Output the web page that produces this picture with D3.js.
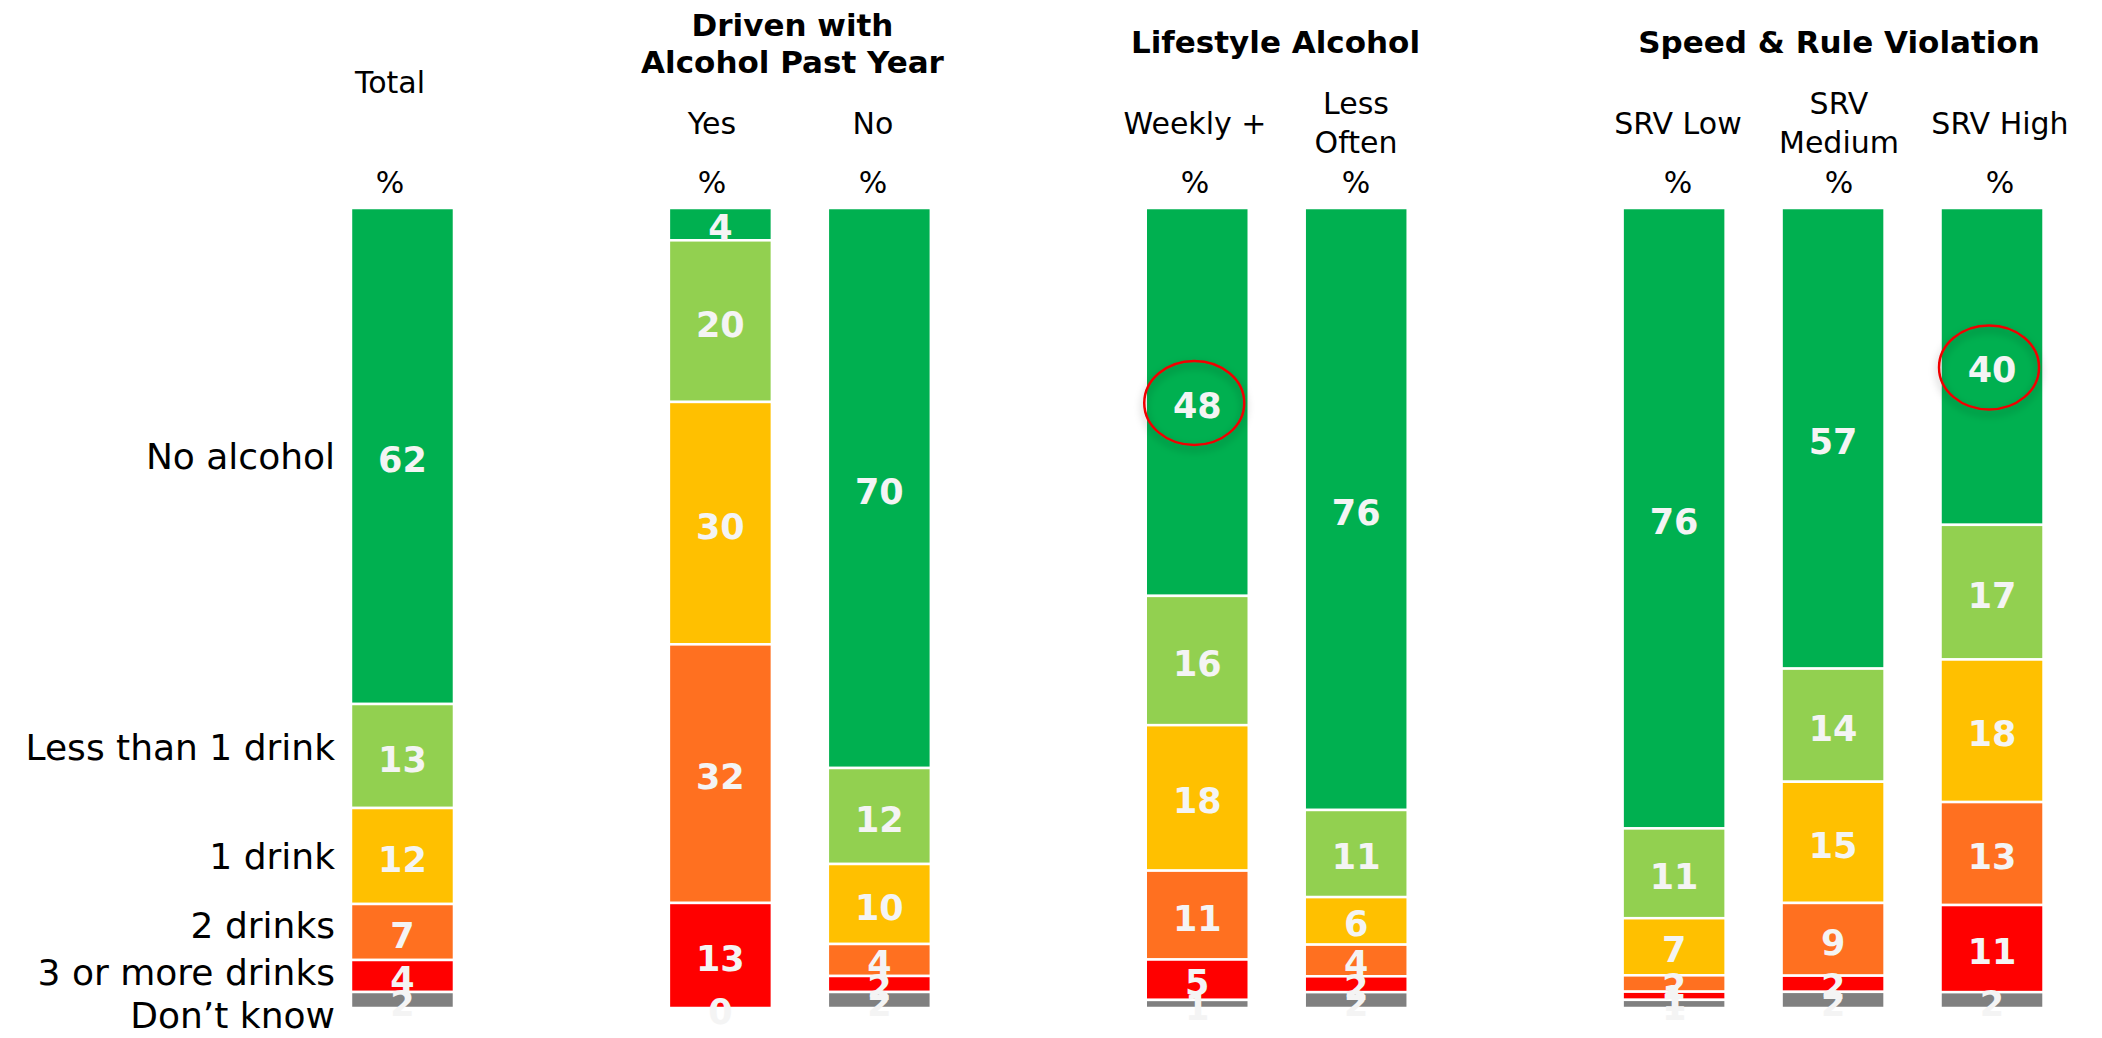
<!DOCTYPE html>
<html>
<head>
<meta charset="utf-8">
<script src="https://cdn.jsdelivr.net/npm/d3@7"></script>
<style>
  html, body { margin: 0; padding: 0; background: #fff; }
  svg { display: block; }
  text { font-family: Verdana, "DejaVu Sans", sans-serif; }
</style>
</head>
<body>
<div id="chart"></div>
<script>
// ---------- data ----------
const groupTitles = ["", "Driven with\nAlcohol Past Year", "Lifestyle Alcohol", "Speed & Rule Violation"];
const columns = ["Total", "Yes", "No", "Weekly +", "Less Often", "SRV Low", "SRV Medium", "SRV High"];
const columnLabels = ["Total", "Yes", "No", "Weekly +", "Less\nOften", "SRV Low", "SRV\nMedium", "SRV High"];
const columnGroup = [0, 1, 1, 2, 2, 3, 3, 3];
const categories = ["No alcohol", "Less than 1 drink", "1 drink", "2 drinks", "3 or more drinks", "Don\u2019t know"];

const noAlcohol   = [62,  4, 70, 48, 76, 76, 57, 40];
const lessThan1   = [13, 20, 12, 16, 11, 11, 14, 17];
const oneDrink    = [12, 30, 10, 18,  6,  7, 15, 18];
const twoDrinks   = [ 7, 32,  4, 11,  4,  2,  9, 13];
const threePlus   = [ 4, 13,  2,  5,  2,  1,  2, 11];
const dontKnow    = [ 2,  0,  2,  1,  2,  1,  2,  2];

const highlights = [["Weekly +", "No alcohol"], ["SRV High", "No alcohol"]];

// ---------- styles ----------
const colors = ["#00B050", "#92D050", "#FFC000", "#FF7020", "#FF0000", "#808080"];
const W = 2102, H = 1038;

const seriesValues = [noAlcohol, lessThan1, oneDrink, twoDrinks, threePlus, dontKnow];
const table = columns.map((c, i) => {
  const row = { column: c };
  categories.forEach((k, j) => row[k] = seriesValues[j][i]);
  return row;
});

// slot domain with spacer slots between groups
const slots = [];
columns.forEach((c, i) => {
  if (i > 0 && columnGroup[i] !== columnGroup[i - 1]) slots.push("__gap" + i);
  slots.push(c);
});

const x = d3.scaleBand().domain(slots).range([323, 2071.5]).paddingInner(0.352).paddingOuter(0.176);
const xHead = d3.scalePoint().domain(slots).range([390, 2000]);
const y = d3.scaleLinear().domain([0, 1]).range([208, 1008]);

const stack = d3.stack().keys(categories).offset(d3.stackOffsetExpand).order(d3.stackOrderNone);
const series = stack(table);

const svg = d3.select("#chart").append("svg").attr("width", W).attr("height", H);

const defs = svg.append("defs");
const f = defs.append("filter").attr("id", "shadow").attr("x", "-30%").attr("y", "-30%").attr("width", "160%").attr("height", "170%");
f.append("feDropShadow").attr("dx", 0).attr("dy", 4).attr("stdDeviation", 4).attr("flood-color", "#000").attr("flood-opacity", 0.35);

// bars
const layers = svg.append("g").selectAll("g").data(series).join("g").attr("fill", (d, i) => colors[i]);
layers.selectAll("rect").data(d => d).join("rect")
  .attr("x", d => x(d.data.column))
  .attr("width", x.bandwidth())
  .attr("y", d => y(d[0]))
  .attr("height", d => Math.max(0, y(d[1]) - y(d[0])))
  .attr("stroke", "#fff")
  .attr("stroke-width", 2.5);

// value labels
const labelG = svg.append("g");
series.forEach((s, i) => {
  labelG.selectAll(null).data(s).join("text")
    .attr("x", d => x(d.data.column) + x.bandwidth() / 2)
    .attr("y", d => (y(d[0]) + y(d[1])) / 2 + 3)
    .attr("dy", "0.36em")
    .attr("text-anchor", "middle")
    .attr("font-size", 35)
    .attr("font-weight", "bold")
    .attr("fill", "#F4F4F4")
    .text(d => d.data[s.key]);
});

// highlight ellipses
highlights.forEach(([col, cat]) => {
  const s = series[categories.indexOf(cat)];
  const d = s.find(e => e.data.column === col);
  svg.append("ellipse")
    .attr("cx", x(col) + x.bandwidth() / 2 - 3)
    .attr("cy", (y(d[0]) + y(d[1])) / 2 + 1)
    .attr("rx", 50).attr("ry", 42)
    .attr("fill", "none")
    .attr("stroke", "#F00000")
    .attr("stroke-width", 2.5)
    .attr("filter", "url(#shadow)");
});

// left category labels, positioned at the Total bar segment centres, spread to avoid overlap
const totalPos = series.map(s => (y(s[0][0]) + y(s[0][1])) / 2);
const pos = totalPos.slice();
const minGap = 47;
for (let it = 0; it < 200; it++) {
  for (let i = 1; i < pos.length; i++) {
    const gap = pos[i] - pos[i - 1];
    if (gap < minGap) {
      const m = (minGap - gap) / 2;
      pos[i - 1] -= m; pos[i] += m;
    }
  }
}
const labelNudge = [0, -9, 0, 3, 3, -1];
svg.append("g").selectAll("text").data(categories).join("text")
  .attr("x", 335)
  .attr("y", (d, i) => pos[i] + labelNudge[i])
  .attr("dy", "0.36em")
  .attr("text-anchor", "end")
  .attr("font-size", 36)
  .attr("fill", "#000")
  .text(d => d);

// column headers
const head = svg.append("g");
columns.forEach((c, i) => {
  const lines = columnLabels[i].split("\n");
  const cx = xHead(c);
  let ys;
  if (!groupTitles[columnGroup[i]]) ys = [82];
  else if (lines.length === 1) ys = [123];
  else ys = [103, 142];
  lines.forEach((ln, k) => {
    head.append("text").attr("x", cx).attr("y", ys[k]).attr("dy", "0.36em")
      .attr("text-anchor", "middle").attr("font-size", 30).attr("fill", "#000").text(ln);
  });
  head.append("text").attr("x", cx).attr("y", 182).attr("dy", "0.36em")
    .attr("text-anchor", "middle").attr("font-size", 30).attr("fill", "#000").text("%");
});

// group titles
groupTitles.forEach((g, gi) => {
  if (!g) return;
  const cols = columns.filter((c, i) => columnGroup[i] === gi);
  const cx = d3.mean(cols, c => xHead(c));
  const lines = g.split("\n");
  const ys = lines.length === 1 ? [42] : [25, 62];
  lines.forEach((ln, k) => {
    head.append("text").attr("x", cx).attr("y", ys[k]).attr("dy", "0.36em")
      .attr("text-anchor", "middle").attr("font-size", 31).attr("font-weight", "bold")
      .attr("fill", "#000").text(ln);
  });
});
</script>
</body>
</html>
